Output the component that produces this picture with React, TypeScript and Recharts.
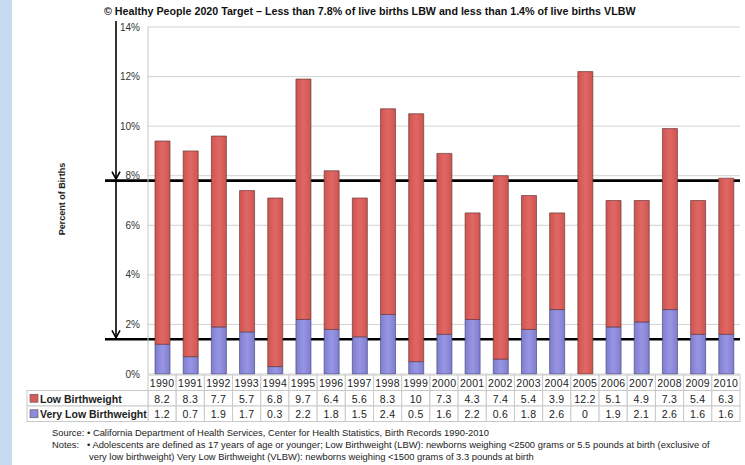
import React from 'react';
import { ComposedChart, Bar, XAxis, YAxis, CartesianGrid, ReferenceArea } from 'recharts';

const years = ['1990','1991','1992','1993','1994','1995','1996','1997','1998','1999','2000','2001','2002','2003','2004','2005','2006','2007','2008','2009','2010'];
const lbwValues = [8.2, 8.3, 7.7, 5.7, 6.8, 9.7, 6.4, 5.6, 8.3, 10, 7.3, 4.3, 7.4, 5.4, 3.9, 12.2, 5.1, 4.9, 7.3, 5.4, 6.3];
const vlbwValues = [1.2, 0.7, 1.9, 1.7, 0.3, 2.2, 1.8, 1.5, 2.4, 0.5, 1.6, 2.2, 0.6, 1.8, 2.6, 0, 1.9, 2.1, 2.6, 1.6, 1.6];
const yTicks = [0, 2, 4, 6, 8, 10, 12, 14];
const lbwTarget = 7.8;
const vlbwTarget = 1.4;
const yMax = 14;
const seriesNames = ['Low Birthweight', 'Very Low Birthweight'];
const title = '\u00A9 Healthy People 2020 Target \u2013 Less than 7.8% of live births LBW and less than 1.4% of live births VLBW';
const yLabel = 'Percent of Births';
const sourceText = 'California Department of Health Services, Center for Health Statistics, Birth Records 1990-2010';
const notesText1 = 'Adolescents are defined as 17 years of age or younger; Low Birthweight (LBW): newborns weighing <2500 grams or 5.5 pounds at birth (exclusive of';
const notesText2 = 'very low birthweight) Very Low Birthweight (VLBW): newborns weighing <1500 grams of 3.3 pounds at birth';

const data = years.map((year, i) => ({ year, lbw: lbwValues[i], vlbw: vlbwValues[i] }));

const W = 745;
const H = 465;
const MARGIN = { top: 27, right: 5, left: 108, bottom: 41 };
const Y_AXIS_W = 40;
const X_AXIS_H = 50;
const PLOT_LEFT = MARGIN.left + Y_AXIS_W;
const PLOT_W = W - PLOT_LEFT - MARGIN.right;
const COL_W = PLOT_W / years.length;
const ROW_H = 15.5;
const TABLE_LEFT = 27;
const FONT = 'Liberation Sans, Arial, Helvetica, sans-serif';
const RED = '#d65c58';
const PURPLE = '#8c8ad9';
const CELL_STROKE = '#c9c9c9';

const fmt = (v: number) => String(v);

const TableTick = (props: any) => {
  const { x, y, payload } = props;
  const i = payload.index;
  const left = x - COL_W / 2;
  const top = y + 1;
  const rows = [payload.value, fmt(lbwValues[i]), fmt(vlbwValues[i])];
  return (
    <g>
      {rows.map((t, r) => (
        <g key={r}>
          <rect x={left} y={top + r * ROW_H} width={COL_W} height={ROW_H} fill="#fff" stroke={CELL_STROKE} strokeWidth={1} />
          <text x={x} y={top + r * ROW_H + ROW_H / 2 + 0.5} dominantBaseline="central" textAnchor="middle"
            fontFamily={FONT} fontSize={10.5} fill="#222" letterSpacing={0.3}>{t}</text>
        </g>
      ))}
      {i === 0 && [0, 1].map((r) => (
        <g key={'lg' + r}>
          <rect x={TABLE_LEFT} y={top + (r + 1) * ROW_H} width={left - TABLE_LEFT} height={ROW_H} fill="#fff" stroke={CELL_STROKE} strokeWidth={1} />
          <rect x={TABLE_LEFT + 3} y={top + (r + 1) * ROW_H + ROW_H / 2 - 4} width={8} height={8}
            fill={r === 0 ? RED : PURPLE} stroke="#555" strokeWidth={0.6} />
          <text x={TABLE_LEFT + 13} y={top + (r + 1) * ROW_H + ROW_H / 2 + 0.5} dominantBaseline="central"
            fontFamily={FONT} fontSize={10.5} fontWeight="bold" fill="#222">{seriesNames[r]}</text>
        </g>
      ))}
    </g>
  );
};

const ARROW_X_OFF = 32;
const LINE_X_OFF = 43;

const TargetShape = (props: any) => {
  const { x, y, width, height } = props;
  const ax = x - ARROW_X_OFF;
  const bottom = y + height;
  const startY = y - (props.extendTop ? 6 : 0);
  return (
    <g>
      <line x1={ax} y1={startY} x2={ax} y2={bottom - 1} stroke="#000" strokeWidth={1.6} />
      <polyline points={`${ax - 4},${bottom - 9} ${ax},${bottom - 1.5} ${ax + 4},${bottom - 9}`} fill="none" stroke="#000" strokeWidth={1.6} />
      <line x1={x - LINE_X_OFF} y1={bottom} x2={x + width} y2={bottom} stroke="#000" strokeWidth={2.6} />
    </g>
  );
};

export default function App() {
  return (
    <div style={{ position: 'absolute', left: 0, top: 0, width: W, height: H, background: '#fff', overflow: 'hidden', fontFamily: FONT }}>
      <svg width={0} height={0} style={{ position: 'absolute' }}>
        <defs>
          <linearGradient id="redGrad" x1="0" y1="0" x2="1" y2="0">
            <stop offset="0%" stopColor="#cf5450" />
            <stop offset="50%" stopColor="#e06864" />
            <stop offset="100%" stopColor="#cf5450" />
          </linearGradient>
          <linearGradient id="purpleGrad" x1="0" y1="0" x2="1" y2="0">
            <stop offset="0%" stopColor="#7f7dd0" />
            <stop offset="50%" stopColor="#9896e3" />
            <stop offset="100%" stopColor="#7f7dd0" />
          </linearGradient>
        </defs>
      </svg>
      <div style={{ position: 'absolute', left: 0, top: 0, width: 12, height: H, background: '#c6daf0' }} />
      <div style={{ position: 'absolute', left: 104, top: 4, fontSize: 10.7, lineHeight: '14px', fontWeight: 'bold', color: '#111', whiteSpace: 'nowrap' }}>{title}</div>
      <div style={{ position: 'absolute', left: 62 - 60, top: 200 - 6, width: 120, textAlign: 'center', fontSize: 9, fontWeight: 'bold', color: '#222', transform: 'rotate(-90deg)', whiteSpace: 'nowrap' }}>{yLabel}</div>
      <div style={{ position: 'absolute', left: 0, top: 0 }}>
        <ComposedChart width={W} height={H} data={data} margin={MARGIN} barSize={15}>
          <CartesianGrid vertical={false} horizontal stroke="#d2d2d2" />
          <XAxis dataKey="year" height={X_AXIS_H} interval={0} axisLine={false} tickLine={false}
            tickSize={0} tickMargin={0} tick={<TableTick />} />
          <YAxis width={Y_AXIS_W} domain={[0, yMax]} ticks={yTicks} tickFormatter={(v: number) => `${v}%`}
            axisLine={{ stroke: '#c4c4c4' }} tickLine={false} tick={{ fontSize: 10, fill: '#333', fontFamily: FONT }} />
          <Bar dataKey="vlbw" stackId="a" fill="url(#purpleGrad)" stroke="#4a4a7a" strokeWidth={0.7} isAnimationActive={false} />
          <Bar dataKey="lbw" stackId="a" fill="url(#redGrad)" stroke="#6a3a3a" strokeWidth={0.7} isAnimationActive={false} />
          <ReferenceArea y1={lbwTarget} y2={yMax} ifOverflow="visible" shape={(p: any) => <TargetShape {...p} extendTop />} />
          <ReferenceArea y1={vlbwTarget} y2={lbwTarget} ifOverflow="visible" shape={(p: any) => <TargetShape {...p} />} />
        </ComposedChart>
      </div>
      <div style={{ position: 'absolute', left: 52, top: 427, fontSize: 9.4, color: '#222', lineHeight: '12px', whiteSpace: 'nowrap' }}>
        <div><span style={{ display: 'inline-block', width: 35 }}>Source:</span>{'\u2022 '}{sourceText}</div>
        <div><span style={{ display: 'inline-block', width: 35 }}>Notes:</span>{'\u2022 '}{notesText1}</div>
        <div style={{ paddingLeft: 37 }}>{notesText2}</div>
      </div>
    </div>
  );
}
